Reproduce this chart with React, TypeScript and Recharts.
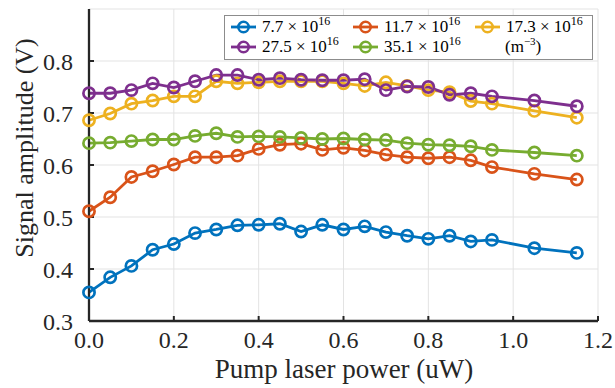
import { LineChart, Line, XAxis, YAxis, CartesianGrid, Legend } from "recharts";

const FONT = '"Liberation Serif", "Times New Roman", serif';
const AXIS = "#262626";

// pump power (uW)
const power = [
  0, 0.05, 0.1, 0.15, 0.2, 0.25, 0.3, 0.35, 0.4, 0.45, 0.5, 0.55, 0.6, 0.65,
  0.7, 0.75, 0.8, 0.85, 0.9, 0.95, 1.05, 1.15,
];

// signal amplitude (V) per density (x 10^16 m^-3)
const d77 = [
  0.355, 0.384, 0.406, 0.437, 0.448, 0.469, 0.476, 0.484, 0.485, 0.487, 0.472,
  0.485, 0.476, 0.482, 0.471, 0.464, 0.458, 0.464, 0.453, 0.456, 0.44, 0.431,
];
const d117 = [
  0.511, 0.538, 0.577, 0.588, 0.601, 0.615, 0.615, 0.618, 0.631, 0.639, 0.641,
  0.629, 0.633, 0.628, 0.62, 0.615, 0.613, 0.615, 0.609, 0.596, 0.583, 0.572,
];
const d173 = [
  0.686, 0.699, 0.718, 0.724, 0.732, 0.732, 0.761, 0.757, 0.759, 0.761, 0.761,
  0.761, 0.757, 0.752, 0.759, 0.752, 0.744, 0.74, 0.723, 0.718, 0.704, 0.691,
];
const d275 = [
  0.738, 0.738, 0.744, 0.757, 0.749, 0.761, 0.773, 0.773, 0.764, 0.767, 0.764,
  0.763, 0.763, 0.765, 0.744, 0.751, 0.75, 0.735, 0.738, 0.732, 0.724, 0.713,
];
const d351 = [
  0.642, 0.643, 0.646, 0.649, 0.649, 0.656, 0.661, 0.654, 0.655, 0.654, 0.652,
  0.65, 0.651, 0.649, 0.648, 0.642, 0.639, 0.638, 0.636, 0.629, 0.624, 0.618,
];

const densities = ["7.7", "11.7", "17.3", "27.5", "35.1"];
const keys = ["d77", "d117", "d173", "d275", "d351"];
const colors = ["#0072BD", "#D95319", "#EDB120", "#7E2F8E", "#77AC30"];

const xTicks = [0, 0.2, 0.4, 0.6, 0.8, 1.0, 1.2];
const yTicks = [0.3, 0.4, 0.5, 0.6, 0.7, 0.8];

const data = power.map((p, i) => ({
  p,
  d77: d77[i],
  d117: d117[i],
  d173: d173[i],
  d275: d275[i],
  d351: d351[i],
}));

function Marker({ color }: { color: string }) {
  return (
    <svg width={26} height={14} style={{ display: "block" }}>
      <line x1={0} y1={7} x2={25} y2={7} stroke={color} strokeWidth={2.8} />
      <circle cx={12.5} cy={7} r={5.2} fill="none" stroke={color} strokeWidth={2.6} />
    </svg>
  );
}

function renderLegend() {
  const cells: (number | null)[] = [0, 1, 2, 3, 4, null];
  return (
    <div
      style={{
        position: "relative",
        width: 369,
        height: 45,
        boxSizing: "border-box",
        border: "1px solid #8c8c8c",
        background: "#fff",
        fontFamily: FONT,
        fontSize: 17,
        color: "#000",
      }}
    >
      {cells.map((c, i) => {
        const col = i % 3;
        const row = Math.floor(i / 3);
        return (
          <div
            key={i}
            style={{
              position: "absolute",
              left: 6 + col * 122,
              top: 1 + row * 20,
              height: 20,
              display: "flex",
              alignItems: "center",
              whiteSpace: "nowrap",
            }}
          >
            {c === null ? (
              <span style={{ marginLeft: 30 }}>
                (m<span style={{ fontSize: 11, position: "relative", top: -7 }}>−3</span>)
              </span>
            ) : (
              <>
                <Marker color={colors[c]} />
                <span style={{ marginLeft: 5 }}>
                  {densities[c]} × 10
                  <span style={{ fontSize: 12, position: "relative", top: -7 }}>16</span>
                </span>
              </>
            )}
          </div>
        );
      })}
    </div>
  );
}

export default function App() {
  return (
    <div style={{ position: "absolute", left: 0, top: 0, background: "#fff" }}>
      <LineChart
        width={615}
        height={388}
        data={data}
        margin={{ top: 9, right: 17, bottom: 0, left: 0 }}
      >
        <CartesianGrid xAxisId="b" yAxisId="l" stroke="#e3e3e3" strokeWidth={1} />
        <XAxis
          xAxisId="b"
          dataKey="p"
          type="number"
          domain={[0, 1.2]}
          ticks={xTicks}
          tickFormatter={(v: number) => v.toFixed(1)}
          height={67}
          tickSize={-5}
          tickMargin={15}
          axisLine={{ stroke: AXIS, strokeWidth: 2.3 }}
          tickLine={{ stroke: AXIS, strokeWidth: 2 }}
          tick={{ fontSize: 24, fill: AXIS, fontFamily: FONT }}
          interval={0}
          label={{
            content: () => (
              <text x={344} y={369} textAnchor="middle" dominantBaseline="central" fontSize={27} fill={AXIS} fontFamily={FONT}>
                Pump laser power (uW)
              </text>
            ),
          }}
        />
        <XAxis
          xAxisId="t"
          dataKey="p"
          type="number"
          orientation="top"
          domain={[0, 1.2]}
          ticks={xTicks}
          height={0}
          mirror
          tick={false}
          tickSize={5}
          axisLine={{ stroke: AXIS, strokeWidth: 2.3 }}
          tickLine={{ stroke: AXIS, strokeWidth: 2 }}
        />
        <YAxis
          yAxisId="l"
          type="number"
          domain={[0.3, 0.9]}
          ticks={yTicks}
          tickFormatter={(v: number) => v.toFixed(1)}
          width={89}
          tickSize={-5}
          tickMargin={21}
          axisLine={{ stroke: AXIS, strokeWidth: 2.3 }}
          tickLine={{ stroke: AXIS, strokeWidth: 2 }}
          tick={{ fontSize: 24, fill: AXIS, fontFamily: FONT }}
          interval={0}
          label={{
            content: () => (
              <text x={24} y={148} transform="rotate(-90 24 148)" textAnchor="middle" dominantBaseline="central" fontSize={26} fill={AXIS} fontFamily={FONT}>
                Signal amplitude (V)
              </text>
            ),
          }}
        />
        <YAxis
          yAxisId="r"
          type="number"
          orientation="right"
          domain={[0.3, 0.9]}
          ticks={yTicks}
          width={0}
          mirror
          tick={false}
          tickSize={5}
          axisLine={{ stroke: AXIS, strokeWidth: 2.3 }}
          tickLine={{ stroke: AXIS, strokeWidth: 2 }}
        />
        {keys.map((k, i) => (
          <Line
            key={k}
            xAxisId="b"
            yAxisId="l"
            dataKey={k}
            stroke={colors[i]}
            strokeWidth={2.8}
            dot={{ r: 5.6, strokeWidth: 2.7, fill: "none", stroke: colors[i] }}
            isAnimationActive={false}
          />
        ))}
        <Legend
          layout="horizontal"
          verticalAlign="middle"
          align="center"
          content={renderLegend}
          wrapperStyle={{ left: 224, top: 15, width: 369, height: 45 }}
        />
      </LineChart>
    </div>
  );
}
